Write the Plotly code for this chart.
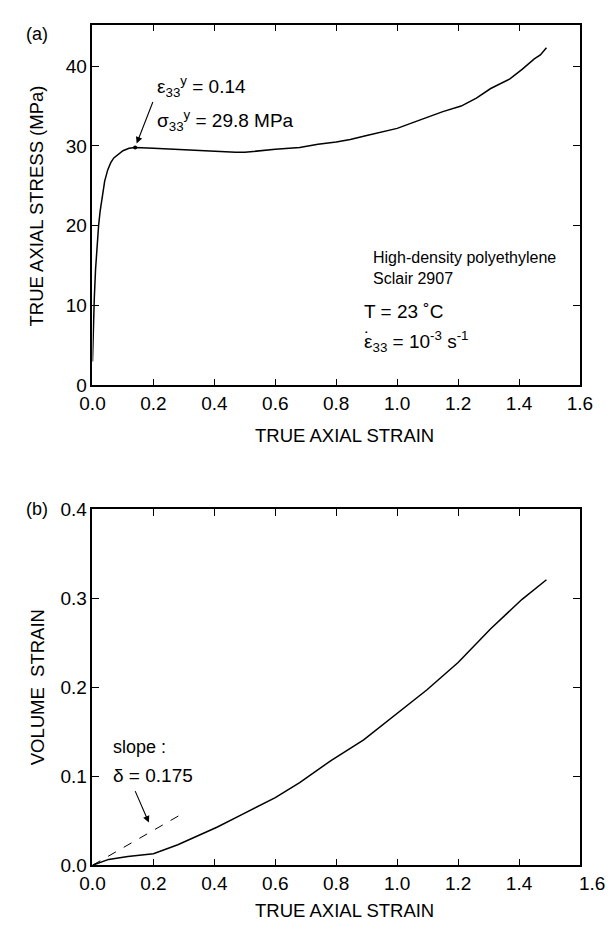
import plotly.graph_objects as go

# Panel (a): true axial stress vs true axial strain
strain_a = [0.0, 0.003, 0.006, 0.01, 0.015, 0.02, 0.025, 0.03, 0.04, 0.05, 0.06, 0.07, 0.085, 0.1, 0.12, 0.14,
            0.2, 0.3, 0.4, 0.47, 0.5, 0.6, 0.68, 0.74, 0.8, 0.846, 0.9, 1.0, 1.078, 1.15, 1.21, 1.26, 1.307,
            1.37, 1.41, 1.45, 1.47, 1.49]
stress_a = [3.0, 8.0, 11.0, 14.5, 17.8, 20.0, 21.8, 23.3, 25.6, 27.0, 27.9, 28.5, 29.0, 29.4, 29.7, 29.8,
            29.7, 29.5, 29.3, 29.2, 29.2, 29.6, 29.8, 30.2, 30.5, 30.8, 31.3, 32.2, 33.3, 34.3, 35.0, 36.0, 37.2,
            38.4, 39.6, 40.9, 41.4, 42.3]
yield_x = [0.14]
yield_y = [29.8]

# Panel (b): volume strain vs true axial strain
strain_b = [0.0, 0.053, 0.116, 0.2, 0.28, 0.41, 0.49, 0.6, 0.68, 0.784, 0.89, 0.994, 1.097, 1.2, 1.307, 1.41, 1.49]
vol_b = [0.0, 0.0066, 0.0099, 0.013, 0.023, 0.043, 0.057, 0.076, 0.093, 0.118, 0.141, 0.169, 0.197, 0.228,
         0.266, 0.299, 0.321]
slope_x = [0.0, 0.285]
slope_y = [0.0, 0.056]

x_ticks_a = [0.0, 0.2, 0.4, 0.6, 0.8, 1.0, 1.2, 1.4, 1.6]
y_ticks_a = [0, 10, 20, 30, 40]
x_ticks_b = [0.0, 0.2, 0.4, 0.6, 0.8, 1.0, 1.2, 1.4]
y_ticks_b = [0.0, 0.1, 0.2, 0.3, 0.4]

FONT = "Arial, Liberation Sans, sans-serif"
W, H = 615, 931
TICK = 19
TITLE = 18.5

fig = go.Figure()
line = dict(color="black", width=1.5)
fig.add_trace(go.Scatter(x=strain_a, y=stress_a, mode="lines", line=line, xaxis="x", yaxis="y", showlegend=False))
fig.add_trace(go.Scatter(x=yield_x, y=yield_y, mode="markers", marker=dict(color="black", size=4),
                         xaxis="x", yaxis="y", showlegend=False))
fig.add_trace(go.Scatter(x=strain_b, y=vol_b, mode="lines", line=line, xaxis="x2", yaxis="y2", showlegend=False))
fig.add_trace(go.Scatter(x=slope_x, y=slope_y, mode="lines", line=dict(color="black", width=1, dash="dash"),
                         xaxis="x2", yaxis="y2", showlegend=False))

ax_common = dict(showline=True, linecolor="black", linewidth=1.5, mirror="ticks", ticks="inside",
                 ticklen=7, tickwidth=1.2, tickcolor="black", showgrid=False, zeroline=False,
                 tickfont=dict(family=FONT, size=TICK, color="black"))

fig.update_layout(
    width=W, height=H,
    margin=dict(l=0, r=0, t=0, b=0),
    plot_bgcolor="white", paper_bgcolor="white",
    font=dict(family=FONT, color="black"),
    xaxis=dict(domain=[83/W, 592/W], range=[0, 1.6], tickvals=x_ticks_a,
               ticktext=[f"{v:.1f}" for v in x_ticks_a], anchor="y", **ax_common),
    yaxis=dict(domain=[1-384/H, 1-15/H], range=[0, 45.2], tickvals=y_ticks_a, anchor="x", **ax_common),
    xaxis2=dict(domain=[83/W, 592/W], range=[0, 1.6], tickvals=x_ticks_b,
                ticktext=[f"{v:.1f}" for v in x_ticks_b], anchor="y2", **ax_common),
    yaxis2=dict(domain=[1-875/H, 1-511/H], range=[0, 0.4], tickvals=y_ticks_b,
                ticktext=[f"{v:.1f}" for v in y_ticks_b], anchor="x2", **ax_common),
)


def pp(x, y):
    return x / W, 1 - y / H


ann = []


def add_paper(text, px, py, size, xanchor="center", angle=0):
    x, y = pp(px, py)
    ann.append(dict(text=text, x=x, y=y, xref="paper", yref="paper", showarrow=False, xanchor=xanchor,
                    yanchor="middle", textangle=angle, font=dict(size=size, family=FONT)))


# Panel labels and axis titles
add_paper("(a)", 11, 25, 18, xanchor="left")
add_paper("(b)", 11, 511, 18, xanchor="left")
add_paper("TRUE AXIAL STRAIN", 346, 435, TITLE)
add_paper("TRUE AXIAL STRAIN", 346, 921, TITLE)
add_paper("TRUE AXIAL STRESS (MPa)", 25, 200, TITLE, angle=-90)
add_paper("VOLUME  STRAIN", 25, 693, TITLE, angle=-90)

# offset "1.6" label in panel (b)
ann.append(dict(text="1.6", x=1.6, y=0, xref="x2", yref="y2", showarrow=False, xanchor="left",
                xshift=-3, yanchor="top", yshift=-6, font=dict(size=TICK, family=FONT)))

# Panel (a) annotations
ann.append(dict(text="ε<sub>33</sub><sup>y</sup> = 0.14", x=0.205, y=37.5, xref="x", yref="y", showarrow=False,
                xanchor="left", yanchor="middle", font=dict(size=19, family=FONT)))
ann.append(dict(text="σ<sub>33</sub><sup>y</sup> = 29.8 MPa", x=0.205, y=33.2, xref="x", yref="y", showarrow=False,
                xanchor="left", yanchor="middle", font=dict(size=19, family=FONT)))
ann.append(dict(x=0.145, y=30.3, ax=0.2, ay=35.7, xref="x", yref="y", axref="x", ayref="y", text="",
                showarrow=True, arrowhead=2, arrowsize=1.2, arrowwidth=1.1, arrowcolor="black"))
ann.append(dict(text="High-density polyethylene<br>Sclair 2907", x=0.915, y=14.7, xref="x", yref="y",
                showarrow=False, xanchor="left", yanchor="middle", align="left", font=dict(size=16, family=FONT)))
ann.append(dict(text="T = 23 ˚C", x=0.885, y=9.2, xref="x", yref="y", showarrow=False,
                xanchor="left", yanchor="middle", font=dict(size=19, family=FONT)))
ann.append(dict(text="ε<sub>33</sub> = 10<sup>-3</sup> s<sup>-1</sup>", x=0.885, y=5.5, xref="x", yref="y",
                showarrow=False, xanchor="left", yanchor="middle", font=dict(size=19, family=FONT)))
# dot over the strain-rate epsilon
ann.append(dict(text="˙", x=0.885, y=5.5, xref="x", yref="y", showarrow=False, xanchor="center",
                xshift=5, yanchor="middle", yshift=3, font=dict(size=19, family=FONT)))

# Panel (b) annotations
ann.append(dict(text="slope :", x=0.06, y=0.133, xref="x2", yref="y2", showarrow=False,
                xanchor="left", yanchor="middle", font=dict(size=18, family=FONT)))
ann.append(dict(text="δ = 0.175", x=0.06, y=0.101, xref="x2", yref="y2", showarrow=False,
                xanchor="left", yanchor="middle", font=dict(size=19, family=FONT)))
ann.append(dict(x=0.185, y=0.048, ax=0.138, ay=0.085, xref="x2", yref="y2", axref="x2", ayref="y2", text="",
                showarrow=True, arrowhead=2, arrowsize=1.2, arrowwidth=1.1, arrowcolor="black"))

fig.update_layout(annotations=ann)
fig.write_html("out.html", post_script="document.body.style.margin='0';document.body.style.overflow='hidden';")
